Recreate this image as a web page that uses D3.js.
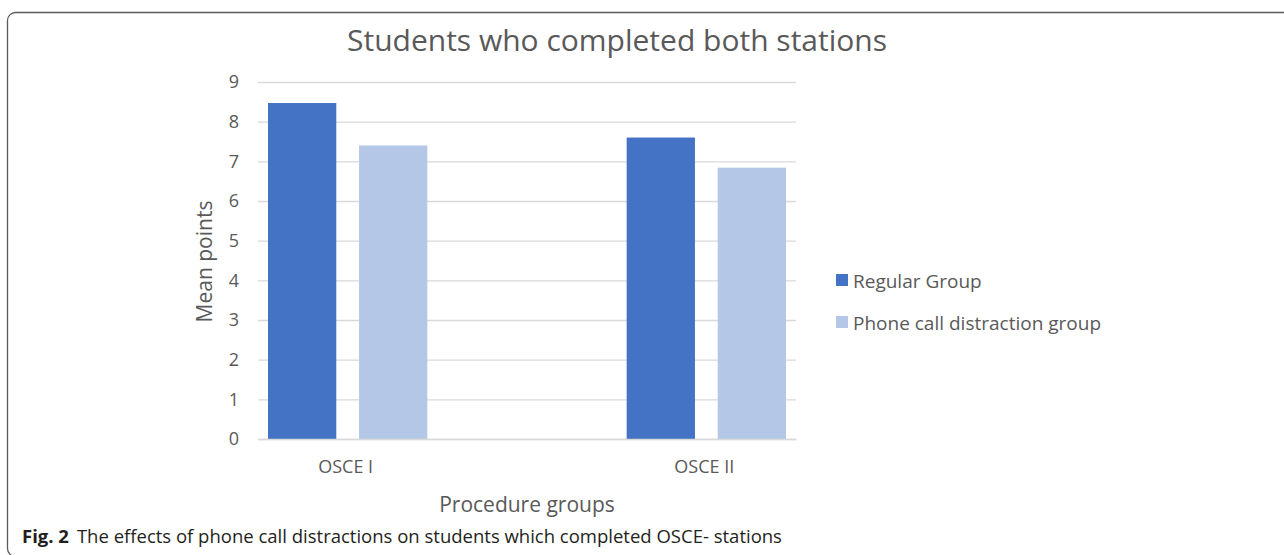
<!DOCTYPE html>
<html>
<head>
<meta charset="utf-8">
<script src="https://cdn.jsdelivr.net/npm/d3@7"></script>
<style>
  body { margin: 0; background: #fff; }
  svg { display: block; font-family: "Open Sans", sans-serif; }
</style>
</head>
<body>
<div id="chart"></div>
<script>
// data
const categories = ['OSCE I', '', 'OSCE II'];
const seriesNames = ['Regular Group', 'Phone call distraction group'];
const regularValues = [8.47, null, 7.6];
const phoneValues = [7.4, null, 6.84];
const yTicks = [0, 1, 2, 3, 4, 5, 6, 7, 8, 9];
const colors = ['#4472c4', '#b4c7e7'];

const W = 1284, H = 555;
const margin = { top: 82, left: 258, right: 488, bottom: 116 };
const width = W - margin.left - margin.right,
  height = H - margin.top - margin.bottom;

const svg = d3.select('#chart').append('svg')
  .attr('width', W)
  .attr('height', H);

// frame round the figure
svg.append('rect')
  .attr('x', 7.5).attr('y', 12.5)
  .attr('width', 1400).attr('height', 544)
  .attr('rx', 8)
  .attr('fill', 'none')
  .attr('stroke', '#5a5a5a')
  .attr('stroke-width', 1.3);

const g = svg.append('g')
  .attr('transform', 'translate(' + margin.left + ',' + margin.top + ')');

const x0 = d3.scaleBand().domain(categories.map((c, i) => i)).range([0, width]);
const x1 = d3.scaleBand().domain(seriesNames).range([10, x0.bandwidth() - 10]).paddingInner(0.25);
const y = d3.scaleLinear().domain([0, 9]).range([height, 0]);

// gridlines
g.append('g')
  .call(d3.axisLeft(y).tickValues(yTicks).tickSize(-width).tickFormat(''))
  .call(s => s.select('.domain').remove())
  .call(s => s.selectAll('line').attr('stroke', '#d9d9d9').attr('stroke-width', 1.3));

// y tick labels
g.append('g')
  .call(d3.axisLeft(y).tickValues(yTicks).tickSize(0).tickPadding(19))
  .call(s => s.select('.domain').remove())
  .call(s => s.selectAll('text')
    .attr('fill', '#595959')
    .style('font-size', '18px')
    .style('font-family', '"Open Sans", sans-serif'));

const rows = categories.map((c, i) => ({ i, values: [regularValues[i], phoneValues[i]] }));

g.selectAll('.grp')
  .data(rows)
  .enter()
  .append('g')
    .attr('transform', d => 'translate(' + x0(d.i) + ',0)')
  .selectAll('rect')
  .data(d => d.values.map((v, k) => ({ name: seriesNames[k], v, k })).filter(e => e.v !== null))
  .enter()
  .append('rect')
    .attr('x', d => x1(d.name))
    .attr('y', d => y(d.v))
    .attr('width', x1.bandwidth())
    .attr('height', d => height - y(d.v))
    .attr('fill', d => colors[d.k]);

// x axis baseline + labels
g.append('g')
  .attr('transform', 'translate(0,' + height + ')')
  .call(d3.axisBottom(x0).tickSize(0).tickPadding(21).tickFormat(i => categories[i]))
  .call(s => s.select('.domain').attr('stroke', '#d9d9d9').attr('stroke-width', 1.5))
  .call(s => s.selectAll('text')
    .attr('fill', '#595959')
    .attr('dx', -2)
    .style('font-size', '18px')
    .style('font-family', '"Open Sans", sans-serif'));

// title
svg.append('text')
  .attr('x', 617).attr('y', 51)
  .attr('text-anchor', 'middle')
  .attr('fill', '#595959')
  .style('font-size', '30px')
  .text('Students who completed both stations');

// axis titles
svg.append('text')
  .attr('transform', 'translate(212,' + (margin.top + height / 2 + 1) + ') rotate(-90)')
  .attr('text-anchor', 'middle')
  .attr('fill', '#595959')
  .style('font-size', '21px')
  .text('Mean points');

svg.append('text')
  .attr('x', 527).attr('y', 512)
  .attr('text-anchor', 'middle')
  .attr('fill', '#595959')
  .style('font-size', '21px')
  .text('Procedure groups');

// legend
const legend = svg.append('g').attr('transform', 'translate(836,281)');
legend.selectAll('g')
  .data(seriesNames)
  .enter()
  .append('g')
    .attr('transform', (d, i) => 'translate(0,' + i * 42 + ')')
  .call(s => s.append('rect')
    .attr('x', 0).attr('y', -7)
    .attr('width', 12).attr('height', 12)
    .attr('fill', (d, i) => colors[i]))
  .call(s => s.append('text')
    .attr('x', 17).attr('y', 7)
    .attr('fill', '#595959')
    .style('font-size', '19px')
    .text(d => d));

// caption
const cap = svg.append('text')
  .attr('x', 22).attr('y', 543)
  .attr('fill', '#231f20')
  .style('font-size', '18.5px');
cap.append('tspan').style('font-weight', 'bold').text('Fig. 2');
cap.append('tspan').attr('dx', 8).text('The effects of phone call distractions on students which completed OSCE- stations');
</script>
</body>
</html>
